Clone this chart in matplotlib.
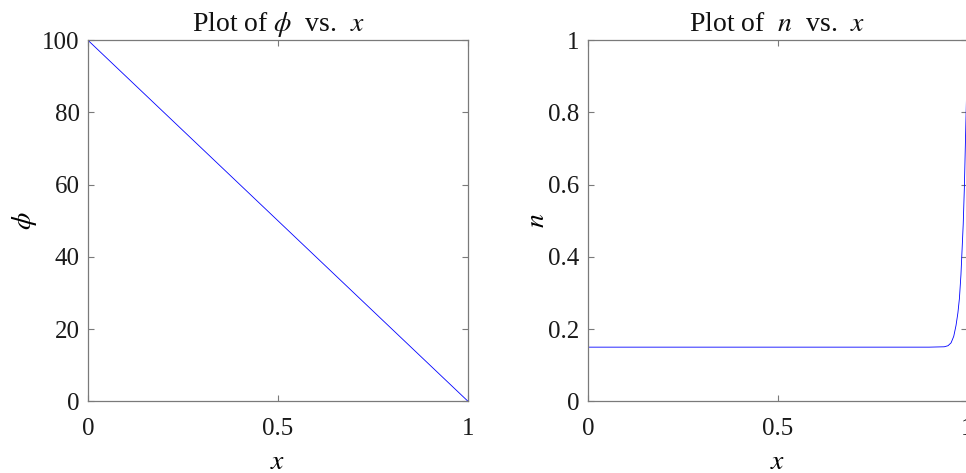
import matplotlib
matplotlib.use("Agg")
import matplotlib.pyplot as plt

# Data
x_phi = [0.0, 1.0]
phi = [100.0, 0.0]

x_n = [0.0, 0.30, 0.60, 0.90, 0.940, 0.950, 0.958, 0.965, 0.971, 0.976,
       0.980, 0.984, 0.987, 0.990, 0.993, 0.995, 0.997, 1.0]
n_vals = [0.150, 0.150, 0.150, 0.150, 0.151, 0.154, 0.162, 0.180, 0.210, 0.245,
          0.285, 0.350, 0.420, 0.490, 0.590, 0.680, 0.770, 0.900]

xticks = [0, 0.5, 1]
xticklabels = ["0", "0.5", "1"]
phi_ticks = [0, 20, 40, 60, 80, 100]
n_ticks = [0, 0.2, 0.4, 0.6, 0.8, 1]
n_ticklabels = ["0", "0.2", "0.4", "0.6", "0.8", "1"]

plt.rcParams['font.family'] = ['Liberation Serif', 'DejaVu Serif']
plt.rcParams['mathtext.fontset'] = 'stix'

fig = plt.figure(figsize=(9.66, 4.73), dpi=100)
W, H = 966.0, 473.0
ax1 = fig.add_axes([88 / W, (H - 401.3) / H, 380 / W, 361 / H])
ax2 = fig.add_axes([588 / W, (H - 401.3) / H, 379 / W, 361 / H])

spine_c = '#7a7a7a'
fs = 18
fs_big = 20

for ax in (ax1, ax2):
    ax.set_xlim(0, 1)
    ax.set_xticks(xticks)
    ax.set_xticklabels(xticklabels)
    for s in ax.spines.values():
        s.set_color(spine_c)
        s.set_linewidth(0.9)
    ax.tick_params(direction='in', length=4, width=0.8, color=spine_c,
                   top=True, right=True, labelsize=fs, labelcolor='#1a1a1a')
    ax.tick_params(axis='x', pad=12)
    ax.tick_params(axis='y', pad=6)

ax1.plot(x_phi, phi, color='#0000ff', lw=0.6)
ax1.set_ylim(0, 100)
ax1.set_yticks(phi_ticks)
ax1.set_title(r"Plot of $\phi$  vs.  $x$", fontsize=fs_big, pad=7, color='#111111')
ax1.set_xlabel(r"$x$", fontsize=fs_big, labelpad=7)
ax1.set_ylabel(r"$\phi$", fontsize=fs_big, labelpad=2)

ax2.plot(x_n, n_vals, color='#0000ff', lw=0.6)
ax2.set_ylim(0, 1)
ax2.set_yticks(n_ticks)
ax2.set_yticklabels(n_ticklabels)
ax2.set_title(r"Plot of  $n$  vs.  $x$", fontsize=fs_big, pad=7, color='#111111')
ax2.set_xlabel(r"$x$", fontsize=fs_big, labelpad=7)
ax2.set_ylabel(r"$n$", fontsize=fs_big, labelpad=-1)

fig.savefig("out.png", dpi=100)
